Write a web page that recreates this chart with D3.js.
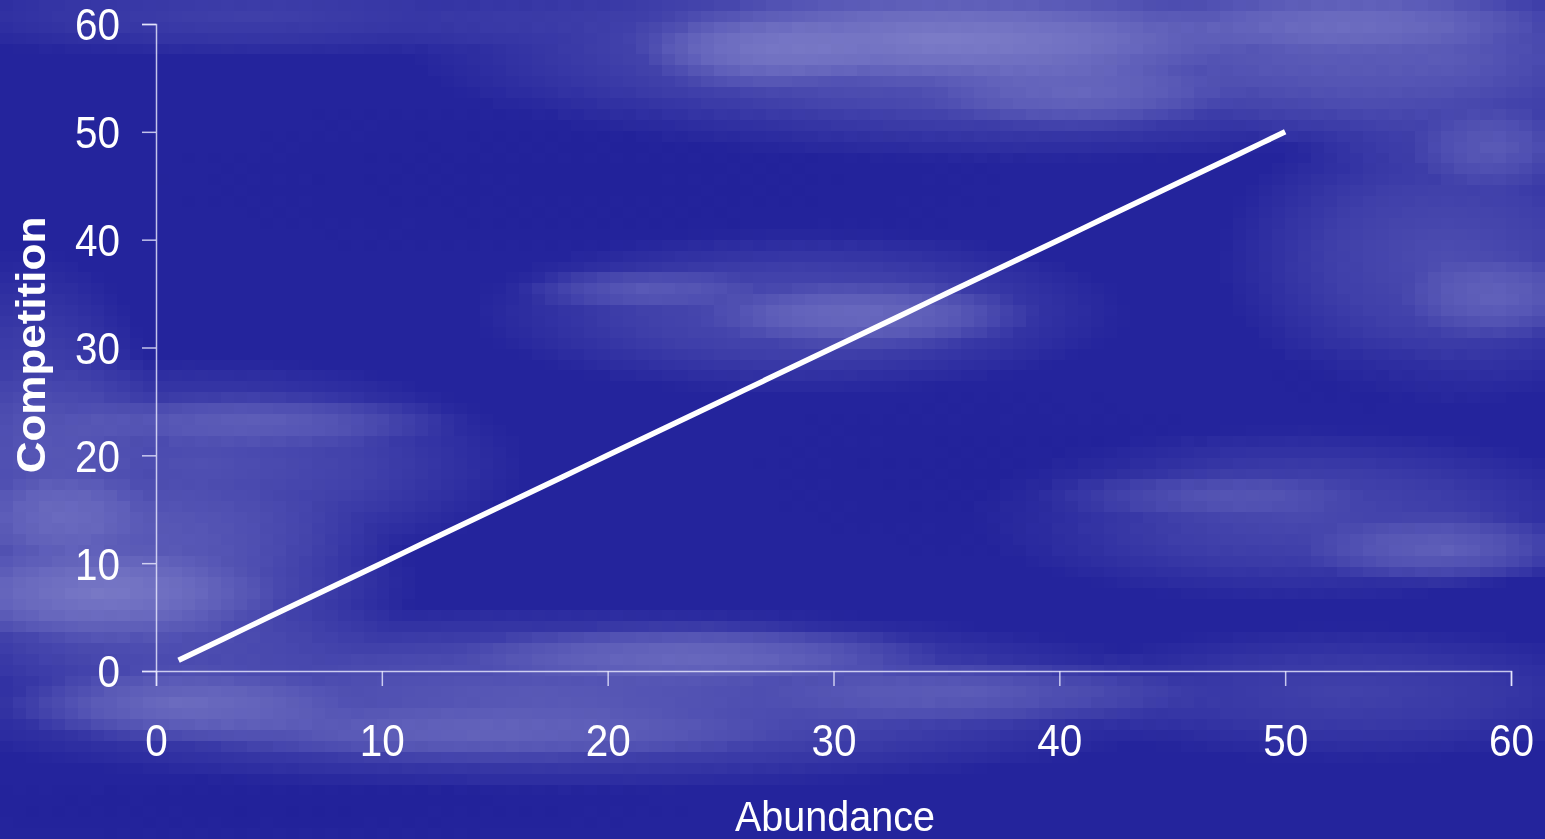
<!DOCTYPE html>
<html>
<head>
<meta charset="utf-8">
<script src="https://cdn.jsdelivr.net/npm/d3@7"></script>
<style>
  html, body { margin: 0; padding: 0; background: #25259e; overflow: hidden; }
  #wrap { position: relative; width: 1545px; height: 839px; }
  #bg { position: absolute; left: 0; top: 0; width: 1545px; height: 839px; image-rendering: pixelated; }
  #chart { position: absolute; left: 0; top: 0; }
  text { font-family: "Liberation Sans", Arial, sans-serif; fill: #ffffff; }
</style>
</head>
<body>
<div id="wrap">
  <canvas id="bg"></canvas>
  <svg id="chart" width="1545" height="839"></svg>
</div>
<script>
// Series: competition measured against abundance
const abundance   = [1, 2, 3, 4, 5, 6, 7, 8, 9, 10, 11, 12, 13, 14, 15, 16, 17, 18, 19, 20,
                     21, 22, 23, 24, 25, 26, 27, 28, 29, 30, 31, 32, 33, 34, 35, 36, 37, 38, 39, 40,
                     41, 42, 43, 44, 45, 46, 47, 48, 49, 50];
const competition = [1, 2, 3, 4, 5, 6, 7, 8, 9, 10, 11, 12, 13, 14, 15, 16, 17, 18, 19, 20,
                     21, 22, 23, 24, 25, 26, 27, 28, 29, 30, 31, 32, 33, 34, 35, 36, 37, 38, 39, 40,
                     41, 42, 43, 44, 45, 46, 47, 48, 49, 50];
const xTicks = [0, 10, 20, 30, 40, 50, 60];
const yTicks = [0, 10, 20, 30, 40, 50, 60];

const W = 1545, H = 839;

// ---- cloudy slide background (coarse cells, scaled up) ----
(function drawBackground() {
  const cw = 13, ch = 11;
  const cols = Math.ceil(W / cw), rows = Math.ceil(H / ch);
  const cv = document.getElementById("bg");
  cv.width = cols; cv.height = rows;
  const ctx = cv.getContext("2d");
  ctx.fillStyle = "rgb(36,36,156)";
  ctx.fillRect(0, 0, cols, rows);

  function cloud(cx, cy, rx, ry, a, rgb) {
    const c = rgb || "135,135,205";
    ctx.save();
    ctx.translate(cx / cw, cy / ch);
    ctx.scale(rx / cw, ry / ch);
    const g = ctx.createRadialGradient(0, 0, 0, 0, 0, 1);
    g.addColorStop(0, `rgba(${c},${a})`);
    g.addColorStop(0.5, `rgba(${c},${a * 0.65})`);
    g.addColorStop(1, `rgba(${c},0)`);
    ctx.fillStyle = g;
    ctx.beginPath();
    ctx.arc(0, 0, 1, 0, Math.PI * 2);
    ctx.fill();
    ctx.restore();
  }

  // broad haze: [cx, cy, rx, ry, alpha]
  [
    [1000, 45, 600, 120, 0.6],
    [1450, 60, 260, 120, 0.45],
    [250, 15, 380, 45, 0.28],
    [800, 315, 330, 85, 0.42],
    [1450, 260, 230, 150, 0.42],
    [200, 470, 330, 110, 0.45],
    [120, 590, 300, 110, 0.6],
    [550, 705, 680, 95, 0.55],
    [1350, 700, 300, 70, 0.3],
    [1300, 520, 330, 90, 0.38],
    [30, 420, 130, 170, 0.35]
  ].forEach(b => cloud(...b));

  // brighter streaks
  [
    [940, 40, 320, 48, 0.75],
    [760, 55, 120, 40, 0.5],
    [1080, 95, 160, 38, 0.45],
    [1350, 22, 200, 32, 0.5],
    [1500, 150, 90, 45, 0.4],
    [870, 318, 170, 35, 0.55],
    [640, 292, 130, 22, 0.38],
    [1500, 300, 100, 45, 0.45],
    [260, 425, 210, 28, 0.4],
    [100, 600, 180, 50, 0.65],
    [60, 520, 100, 45, 0.4],
    [180, 712, 180, 40, 0.6],
    [700, 660, 250, 32, 0.55],
    [480, 740, 320, 30, 0.4],
    [980, 700, 220, 35, 0.4],
    [1450, 555, 150, 38, 0.5],
    [1200, 500, 170, 25, 0.32]
  ].forEach(b => cloud(...b));

  // darker pockets
  [
    [600, 180, 450, 90, 0.35],
    [1000, 480, 260, 90, 0.3],
    [300, 815, 420, 35, 0.4],
    [1380, 380, 120, 40, 0.25]
  ].forEach(([cx, cy, rx, ry, a]) => cloud(cx, cy, rx, ry, a, "30,30,150"));
})();

// ---- chart ----
const svg = d3.select("#chart");
const x = d3.scaleLinear().domain([0, 60]).range([156, 1511]);
const y = d3.scaleLinear().domain([0, 60]).range([671, 24]);
const axisColor = "rgba(235,235,255,0.8)";
const squeeze = 0.92;

const gx = svg.append("g").attr("transform", `translate(0,${y(0)})`)
  .call(d3.axisBottom(x).tickValues(xTicks).tickSize(15).tickPadding(39).tickFormat(d3.format("d")));
const gy = svg.append("g").attr("transform", `translate(${x(0)},0)`)
  .call(d3.axisLeft(y).tickValues(yTicks).tickSize(14).tickFormat(d3.format("d")));

[gx, gy].forEach(g => {
  g.select(".domain").attr("stroke", axisColor).attr("stroke-width", 1.5);
  g.selectAll(".tick line").attr("stroke", axisColor).attr("stroke-width", 1.5);
  g.selectAll("text").attr("fill", "#fff").attr("font-size", 44)
    .attr("font-family", "Liberation Sans, Arial, sans-serif");
});
gx.selectAll("text").attr("transform", `scale(${squeeze},1)`);
gy.selectAll("text").attr("transform", `scale(${squeeze},1)`).attr("x", -36 / squeeze).attr("dy", "0.36em");

// line
const pts = abundance.map((a, i) => [a, competition[i]]);
svg.append("path")
  .datum(pts)
  .attr("fill", "none")
  .attr("stroke", "#ffffff")
  .attr("stroke-width", 5.5)
  .attr("stroke-linejoin", "round")
  .attr("d", d3.line().x(d => x(d[0])).y(d => y(d[1])));

// axis titles
svg.append("text")
  .attr("transform", `translate(835,831) scale(${squeeze},1)`)
  .attr("text-anchor", "middle")
  .attr("font-size", 43)
  .text("Abundance");

svg.append("text")
  .attr("transform", `translate(45,345) scale(${squeeze},1) rotate(-90)`)
  .attr("text-anchor", "middle")
  .attr("font-size", 44)
  .attr("font-weight", "bold")
  .text("Competition");
</script>
</body>
</html>
